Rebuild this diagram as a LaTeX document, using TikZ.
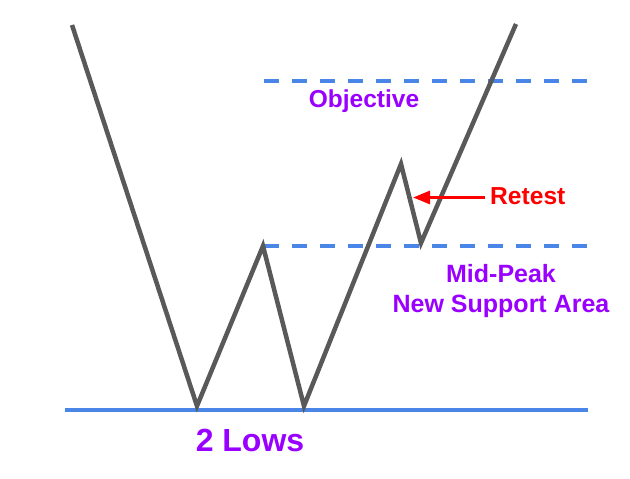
\documentclass[tikz,border=0pt]{standalone}
\usepackage{fontspec}
\setmainfont{Liberation Sans}
\usetikzlibrary{arrows.meta}
\definecolor{lineGray}{HTML}{595959}
\definecolor{lineBlue}{HTML}{4A86E8}
\definecolor{txtPurple}{HTML}{9900FF}
\definecolor{txtRed}{HTML}{FF0000}
\tikzset{
  priceline/.style={draw=lineGray, line width=4.5pt, line join=miter},
  baseline/.style={draw=lineBlue, line width=4pt},
  levelline/.style={draw=lineBlue, line width=4pt, dash pattern=on 15pt off 13pt},
  label/.style={text=txtPurple, font=\bfseries\fontsize{25}{30}\selectfont, inner sep=0pt, anchor=base},
  redlabel/.style={text=txtRed, font=\bfseries\fontsize{24.6}{28}\selectfont, inner sep=0pt, anchor=base west},
  retestarrow/.style={draw=txtRed, line width=3pt, -{Triangle[length=17pt,width=13pt]}}
}
\begin{document}
\begin{tikzpicture}[x=1pt,y=-1pt]
\useasboundingbox (0,0) rectangle (630,479);
% price path points
\coordinate (p0) at (72,25);
\coordinate (p1) at (197,406);
\coordinate (p2) at (263,246);
\coordinate (p3) at (304,406);
\coordinate (p4) at (401,164);
\coordinate (p5) at (421,243);
\coordinate (p6) at (516,24);
% level lines
\coordinate (b0) at (65,409.5);
\coordinate (b1) at (588,409.5);
\coordinate (o0) at (264,81);
\coordinate (o1) at (592,81);
\coordinate (m0) at (264,245.5);
\coordinate (m1) at (592,245.5);
\draw[baseline] (b0) -- (b1);
\draw[levelline] (o0) -- (o1);
\draw[levelline] (m0) -- (m1);
\draw[priceline] (p0) -- (p1) -- (p2) -- (p3) -- (p4) -- (p5) -- (p6);
% labels
\node[label, font=\bfseries\fontsize{24.5}{30}\selectfont] (obj) at (364,107) {Objective};
\node[redlabel] (ret) at (490,204) {Retest};
\coordinate (tip) at (413,197.5);
\coordinate (tail) at (485,197.5);
\draw[retestarrow] (tail) -- (tip);
\node[label] (mid) at (501,282) {Mid-Peak};
\node[label] (nsa) at (501,312) {New Support Area};
\node[label, font=\bfseries\fontsize{32}{36}\selectfont] (lows) at (250,451) {2 Lows};
\end{tikzpicture}
\end{document}
